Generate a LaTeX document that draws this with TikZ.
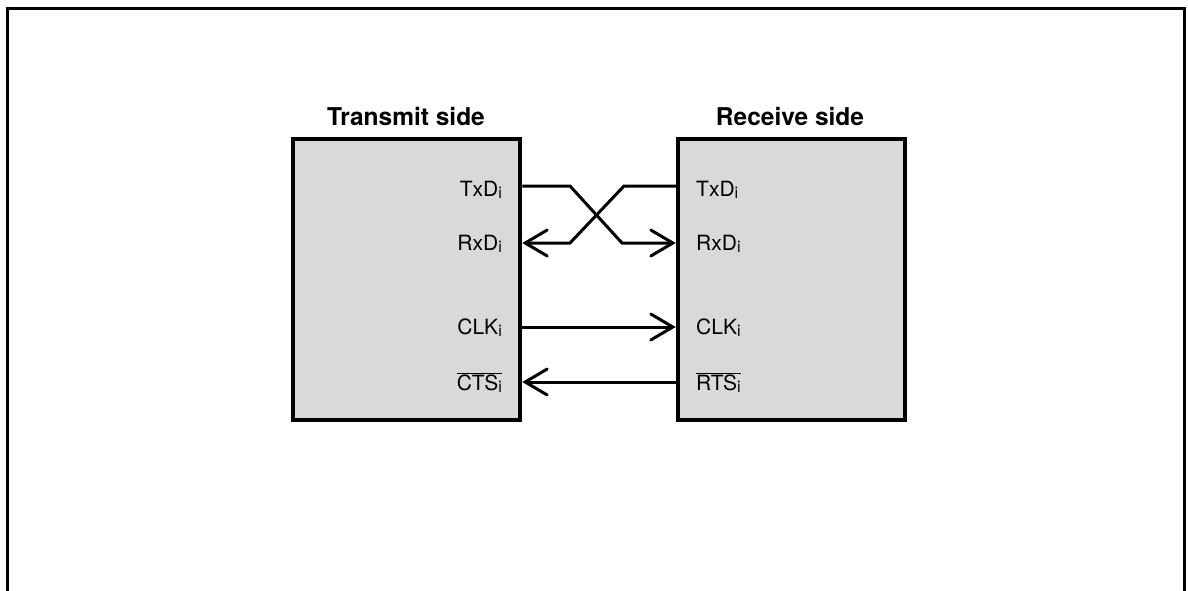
\documentclass[tikz,border=0pt]{standalone}
\usepackage{fontspec}
\setmainfont{TeX Gyre Heros}
\usetikzlibrary{arrows.meta}
\newcommand{\subi}{\raisebox{-2.5pt}{\fontsize{16}{17}\selectfont i}}
\tikzset{
  frameline/.style={line width=3pt},
  sidebox/.style={draw, line width=4.5pt, fill=gray!30, minimum width=227pt, minimum height=281pt, inner sep=0pt},
  sidetitle/.style={font=\fontsize{24.5}{26}\selectfont\bfseries, anchor=base, inner sep=0pt},
  sig/.style={font=\fontsize{21}{23}\selectfont, inner sep=0pt},
  conn/.style={line width=3pt, line join=miter},
  chev/.style={-{Straight Barb[length=22pt,width=26pt,line cap=round]}}
}
\begin{document}
\begin{tikzpicture}[x=1pt,y=-1pt]
\useasboundingbox (0,0) rectangle (1188,590);
\draw[frameline] (7,600) -- (7,8) -- (1184,8) -- (1184,600);

\node[sidebox] (T) at (406.5,279.5) {};
\node[sidebox] (R) at (791.5,279.5) {};
\node[sidetitle] (Tt) at (406,125) {Transmit side};
\node[sidetitle] (Rt) at (790,125) {Receive side};

% left labels
\node[sig, anchor=base east] (lTx) at (502,196) {TxD\subi};
\node[sig, anchor=base east] (lRx) at (502,250) {RxD\subi};
\node[sig, anchor=base east] (lClk) at (502,334) {CLK\subi};
\node[sig, anchor=base east] (lCts) at (502,390) {$\overline{\mbox{CTS\subi}}$};
% right labels
\node[sig, anchor=base west] (rTx) at (696,196) {TxD\subi};
\node[sig, anchor=base west] (rRx) at (696,250) {RxD\subi};
\node[sig, anchor=base west] (rClk) at (696,334) {CLK\subi};
\node[sig, anchor=base west] (rRts) at (696,390) {$\overline{\mbox{RTS\subi}}$};

% pins on box edges
\coordinate (pTTx) at (T.east |- 0,186);
\coordinate (pTRx) at (T.east |- 0,243);
\coordinate (pTClk) at (T.east |- 0,327);
\coordinate (pTCts) at (T.east |- 0,382);
\coordinate (pRTx) at (R.west |- 0,186);
\coordinate (pRRx) at (R.west |- 0,243);
\coordinate (pRClk) at (R.west |- 0,327);
\coordinate (pRRts) at (R.west |- 0,382);

\draw[conn, chev] (pTTx) -- (570,186) -- (622,243) -- (pRRx);
\draw[conn, chev] (pRTx) -- (624,186) -- (570,243) -- (pTRx);
\draw[conn, chev] (pTClk) -- (pRClk);
\draw[conn, chev] (pRRts) -- (pTCts);
\end{tikzpicture}
\end{document}
